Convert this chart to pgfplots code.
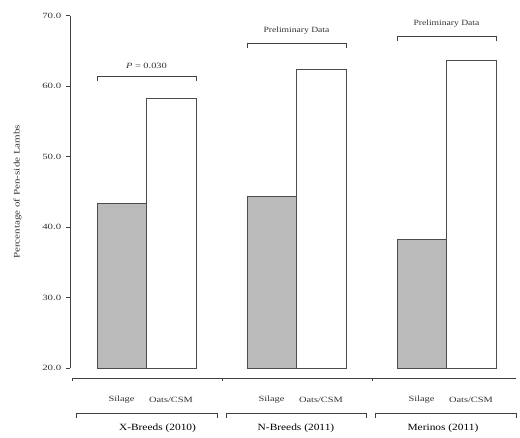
\documentclass[border=0pt]{standalone}
\usepackage{pgfplots}
\pgfplotsset{compat=1.18}
\usepackage{fontspec}
\setmainfont{Liberation Serif}
\begin{document}
\begin{tikzpicture}
\begin{axis}[
  x=1pt, y=7.05pt,
  xmin=70, xmax=520, ymin=20, ymax=70,
  axis y line=left, axis x line=none,
  axis line style={black!75, -},
  ytick={20,30,40,50,60,70},
  yticklabels={20.0,30.0,40.0,50.0,60.0,70.0},
  tick style={black!75},
  major tick length=4pt,
  tick align=outside,
  yticklabel style={font=\fontsize{8}{9}\selectfont, xscale=1.35, text=black!80},
  ylabel={\scalebox{1.3}[1]{Percentage of Pen-side Lambs}},
  ylabel style={font=\fontsize{8.5}{9}\selectfont, text=black!80, at={(axis description cs:-0.1,0.5)}},
  clip=false,
]
% frame of the picture
\path (axis cs:0,10.21) rectangle (axis cs:520,72.2);
% Silage bars
\addplot[fill=black!27, draw=black!70, line width=0.8pt] coordinates {(97,20) (97,43.4) (146,43.4) (146,20)} -- cycle;
\addplot[fill=black!27, draw=black!70, line width=0.8pt] coordinates {(247,20) (247,44.4) (296,44.4) (296,20)} -- cycle;
\addplot[fill=black!27, draw=black!70, line width=0.8pt] coordinates {(397,20) (397,38.3) (446,38.3) (446,20)} -- cycle;
% Oats/CSM bars
\addplot[fill=white, draw=black!70, line width=0.8pt] coordinates {(146,20) (146,58.2) (196,58.2) (196,20)} -- cycle;
\addplot[fill=white, draw=black!70, line width=0.8pt] coordinates {(296,20) (296,62.4) (346,62.4) (346,20)} -- cycle;
\addplot[fill=white, draw=black!70, line width=0.8pt] coordinates {(446,20) (446,63.7) (496,63.7) (496,20)} -- cycle;
% bottom axis line
\draw[black!75] (axis cs:72,18.58) -- (axis cs:516,18.58);
\pgfplotsinvokeforeach{72,222,372}{\draw[black!75] (axis cs:#1,18.58) -- (axis cs:#1,18.1);}
% category labels
\pgfplotsinvokeforeach{121.5,271.5,421.5}{\node[font=\fontsize{8}{9}\selectfont, xscale=1.3, text=black!80] at (axis cs:#1,15.46) {Silage};}
\pgfplotsinvokeforeach{171,321,471}{\node[font=\fontsize{8}{9}\selectfont, xscale=1.3, text=black!80] at (axis cs:#1,15.46) {Oats/CSM};}
% group brackets
\draw[black!75, line width=0.8pt] (axis cs:76,12.9) -- (axis cs:76,13.5) -- (axis cs:217,13.5) -- (axis cs:217,12.9);
\draw[black!75, line width=0.8pt] (axis cs:226,12.9) -- (axis cs:226,13.5) -- (axis cs:366,13.5) -- (axis cs:366,12.9);
\draw[black!75, line width=0.8pt] (axis cs:375,12.9) -- (axis cs:375,13.5) -- (axis cs:516,13.5) -- (axis cs:516,12.9);
\node[font=\fontsize{9.5}{10}\selectfont, xscale=1.2] at (axis cs:157.5,11.4) {X-Breeds (2010)};
\node[font=\fontsize{9.5}{10}\selectfont, xscale=1.2] at (axis cs:296,11.4) {N-Breeds (2011)};
\node[font=\fontsize{9.5}{10}\selectfont, xscale=1.2] at (axis cs:443,11.4) {Merinos (2011)};
% top brackets
\draw[black!75, line width=0.8pt] (axis cs:97,60.7) -- (axis cs:97,61.42) -- (axis cs:196,61.42) -- (axis cs:196,60.7);
\node[font=\fontsize{8}{9}\selectfont, xscale=1.3, text=black!80] at (axis cs:146.5,62.9) {\textit{P} = 0.030};
\draw[black!75, line width=0.8pt] (axis cs:247,65.4) -- (axis cs:247,66.1) -- (axis cs:346,66.1) -- (axis cs:346,65.4);
\node[font=\fontsize{8}{9}\selectfont, xscale=1.2, text=black!80] at (axis cs:296.5,67.8) {Preliminary Data};
\draw[black!75, line width=0.8pt] (axis cs:397,66.4) -- (axis cs:397,67.1) -- (axis cs:496,67.1) -- (axis cs:496,66.4);
\node[font=\fontsize{8}{9}\selectfont, xscale=1.2, text=black!80] at (axis cs:446.5,68.8) {Preliminary Data};
\end{axis}
\end{tikzpicture}
\end{document}
